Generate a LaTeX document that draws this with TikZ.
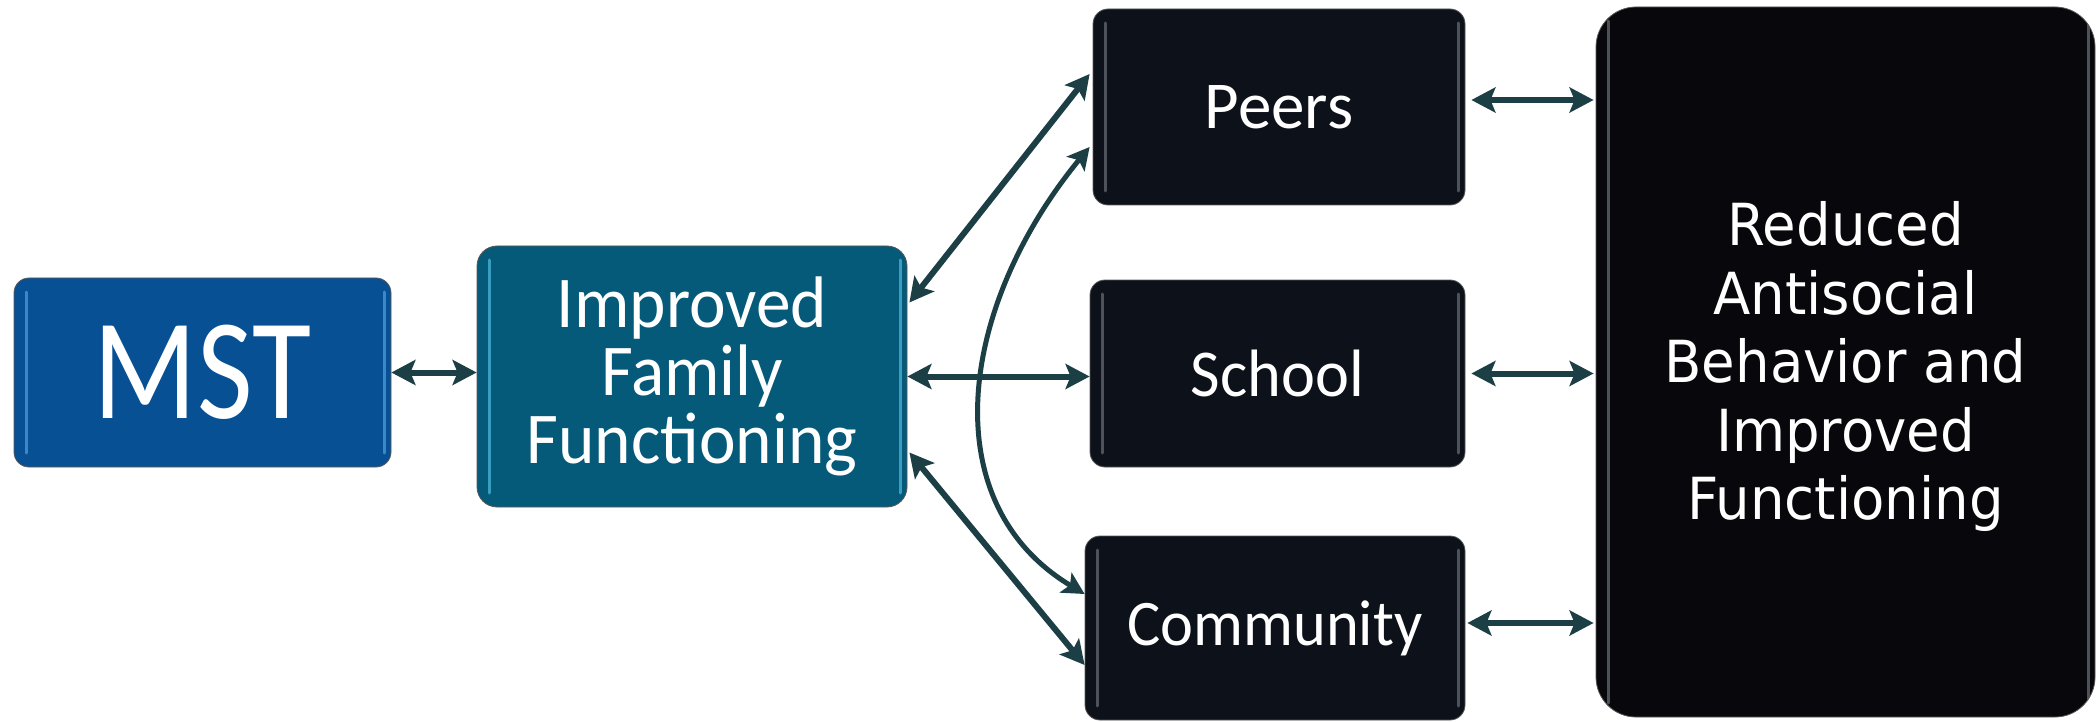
\documentclass[tikz,border=0pt]{standalone}
\usepackage{fontspec}
\usetikzlibrary{arrows.meta,calc}
\newfontfamily\cfont{Carlito}
\newfontfamily\cfontM[FakeStretch=0.84]{Carlito}
\newfontfamily\cfontI[FakeStretch=0.95]{Carlito}
\newfontfamily\cfontC[FakeStretch=0.96]{Carlito}
\newfontfamily\vfont[FakeStretch=0.94]{DejaVu Sans}
\definecolor{mstblue}{RGB}{8,80,148}
\definecolor{iffteal}{RGB}{5,90,122}
\definecolor{darkbox}{RGB}{13,18,26}
\definecolor{blackbox}{RGB}{8,8,12}
\definecolor{arrowcol}{RGB}{28,63,70}
\definecolor{bevblue}{RGB}{70,150,215}
\definecolor{bevteal}{RGB}{70,175,210}
\definecolor{bevgrey}{RGB}{95,100,108}
\tikzset{
  box/.style={draw=black!65, line width=0.8pt, rectangle, inner sep=0pt, text=white, align=center},
  bevel/.style={path picture={
    \draw[#1, line width=3pt, line cap=round, opacity=0.8]
      ([xshift=12pt,yshift=-14pt]path picture bounding box.north west) --
      ([xshift=12pt,yshift=14pt]path picture bounding box.south west);
    \draw[#1, line width=3pt, line cap=round, opacity=0.8]
      ([xshift=-7pt,yshift=-14pt]path picture bounding box.north east) --
      ([xshift=-7pt,yshift=14pt]path picture bounding box.south east);}},
  conn/.style={arrowcol, line width=6pt,
    {Stealth[length=24pt,width=25pt,inset=5pt]}-{Stealth[length=24pt,width=25pt,inset=5pt]}},
  curveconn/.style={arrowcol, line width=5pt,
    {Stealth[length=22pt,width=23pt,inset=5pt]}-{Stealth[length=22pt,width=23pt,inset=5pt]}}
}
\begin{document}
\begin{tikzpicture}[x=1pt,y=-1pt]
\useasboundingbox[fill=white] (0,0) rectangle (2097,722);

\node[box, fill=mstblue, bevel=bevblue, minimum width=377pt, minimum height=189pt, rounded corners=15pt,
  font=\fontsize{144}{150}\selectfont\cfontM]
  (mst) at (202.5,372.5) {MST};

\node[box, fill=iffteal, bevel=bevteal, minimum width=430pt, minimum height=261pt, rounded corners=20pt,
  font=\fontsize{73}{68}\selectfont\cfontI]
  (iff) at (692,376.5) {Improved\\Family\\Functioning};

\node[box, fill=darkbox, bevel=bevgrey, minimum width=372pt, minimum height=196pt, rounded corners=15pt,
  font=\fontsize{67}{70}\selectfont\cfont]
  (peers) at (1279,107) {Peers};

\node[box, fill=darkbox, bevel=bevgrey, minimum width=375pt, minimum height=187pt, rounded corners=15pt,
  font=\fontsize{67}{70}\selectfont\cfontC]
  (school) at (1277.5,373.5) {School};

\node[box, fill=darkbox, bevel=bevgrey, minimum width=380pt, minimum height=184pt, rounded corners=15pt,
  font=\fontsize{65}{70}\selectfont\cfontC]
  (comm) at (1275,628) {Community};

\node[box, fill=blackbox, bevel=bevgrey, minimum width=499pt, minimum height=710pt, rounded corners=40pt,
  font=\fontsize{58}{68.5}\selectfont\vfont]
  (right) at (1845.5,362) {\raisebox{-7pt}[\height][\depth]{\begin{tabular}{@{}c@{}}Reduced\\Antisocial\\Behavior and\\Improved\\Functioning\end{tabular}}};

% connectors
\draw[conn] (mst.east) -- (mst.east -| iff.west);
\draw[conn] (iff.east) -- (iff.east -| school.west);
\draw[conn] ($(iff.east)+(2,-74)$) -- ($(peers.west)+(-3,-33)$);
\draw[conn] ($(iff.east)+(2,76)$) -- ($(comm.west)+(0,37)$);
\draw[curveconn] ($(peers.west)+(-3,40)$) .. controls +(-130,158) and +(-153,-92) .. ($(comm.west)+(0,-34)$);

\draw[conn, shorten <=6pt, shorten >=2pt] ($(peers.east)+(0,-7)$) -- ($(peers.east -| right.west)+(0,-7)$);
\draw[conn, shorten <=6pt, shorten >=2pt] (school.east) -- (school.east -| right.west);
\draw[conn, shorten <=2pt, shorten >=2pt] ($(comm.east)+(0,-5)$) -- ($(comm.east -| right.west)+(0,-5)$);
\end{tikzpicture}
\end{document}
